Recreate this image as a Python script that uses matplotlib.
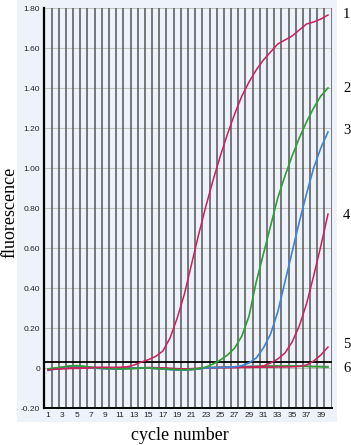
import matplotlib.pyplot as plt
from matplotlib.patches import Rectangle
import numpy as np

#### Data (fluorescence per cycle)
cycles = list(range(1, 41))

curve1 = [-0.010, -0.006, -0.003, -0.002, -0.002, 0.000, 0.002, 0.003, 0.003, 0.003,
          0.004, 0.006, 0.015, 0.030, 0.042, 0.058, 0.085, 0.150, 0.250, 0.370,
          0.520, 0.670, 0.810, 0.940, 1.060, 1.170, 1.270, 1.360, 1.430, 1.490,
          1.540, 1.580, 1.620, 1.640, 1.660, 1.690, 1.720, 1.730, 1.745, 1.765]

curve2 = [-0.005, 0.000, 0.005, 0.010, 0.012, 0.008, 0.003, 0.000, -0.002, -0.003,
          -0.004, -0.003, -0.002, 0.000, 0.000, -0.002, -0.004, -0.006, -0.008, -0.009,
          -0.007, -0.003, 0.005, 0.020, 0.040, 0.065, 0.100, 0.160, 0.260, 0.430,
          0.570, 0.710, 0.850, 0.960, 1.060, 1.150, 1.230, 1.300, 1.360, 1.400]

curve3 = [-0.012, -0.005, 0.003, 0.008, 0.010, 0.006, 0.002, -0.002, -0.004, -0.005,
          -0.004, -0.002, 0.000, 0.001, 0.000, -0.002, -0.005, -0.008, -0.010, -0.010,
          -0.008, -0.004, 0.000, 0.002, 0.003, 0.004, 0.006, 0.012, 0.025, 0.050,
          0.100, 0.170, 0.280, 0.430, 0.580, 0.730, 0.870, 1.000, 1.100, 1.180]

curve4 = [-0.008, -0.005, -0.003, -0.002, -0.001, 0.000, 0.001, 0.002, 0.002, 0.002,
          0.001, 0.000, 0.000, 0.001, 0.002, 0.002, 0.000, -0.002, -0.004, -0.005,
          -0.004, -0.002, 0.000, 0.002, 0.003, 0.003, 0.003, 0.004, 0.005, 0.006,
          0.010, 0.025, 0.045, 0.075, 0.130, 0.210, 0.320, 0.460, 0.610, 0.770]

curve5 = [-0.006, -0.004, -0.002, -0.001, 0.000, 0.001, 0.001, 0.002, 0.002, 0.001,
          0.000, 0.000, 0.001, 0.001, 0.002, 0.001, 0.000, -0.002, -0.003, -0.004,
          -0.003, -0.002, 0.000, 0.001, 0.002, 0.002, 0.002, 0.003, 0.003, 0.004,
          0.004, 0.004, 0.005, 0.005, 0.006, 0.008, 0.015, 0.035, 0.065, 0.105]

curve6 = [-0.004, -0.001, 0.004, 0.009, 0.011, 0.008, 0.004, 0.001, -0.001, -0.002,
          -0.003, -0.003, -0.002, -0.001, 0.000, -0.002, -0.004, -0.006, -0.008, -0.008,
          -0.006, -0.003, 0.000, 0.002, 0.003, 0.004, 0.005, 0.006, 0.007, 0.008,
          0.009, 0.009, 0.010, 0.010, 0.010, 0.009, 0.008, 0.007, 0.006, 0.005]

curve_gray = [-0.006, -0.003, 0.001, 0.004, 0.005, 0.003, 0.001, -0.001, -0.002, -0.003,
              -0.003, -0.002, -0.001, 0.000, 0.000, -0.002, -0.004, -0.007, -0.009, -0.010,
              -0.008, -0.004, 0.000, 0.003, 0.004, 0.005, 0.006, 0.007, 0.008, 0.009,
              0.010, 0.011, 0.011, 0.011, 0.010, 0.010, 0.009, 0.008, 0.008, 0.007]

threshold = 0.03
yticks = [-0.2, 0.0, 0.2, 0.4, 0.6, 0.8, 1.0, 1.2, 1.4, 1.6, 1.8]
ytick_labels = ['-0.20', '0', '0.20', '0.40', '0.60', '0.80', '1.00', '1.20', '1.40', '1.60', '1.80']
xticks = cycles[::2]
curve_names = ['1', '2', '3', '4', '5', '6']
name_y = [15, 88, 131, 215, 345, 369]   # pixel rows of the labels on the right

crimson = '#cc1f5c'
green = '#2f9e35'
blue = '#3d84d6'
bg = '#eef3fb'

#### Figure
fig = plt.figure(figsize=(3.51, 4.45), dpi=100)
fig.patch.set_facecolor('white')
fig.patches.append(Rectangle((0.048, 0.052), 0.912, 0.948, transform=fig.transFigure,
                             facecolor=bg, edgecolor='none', zorder=-1))

ax = fig.add_axes([0.1265, 0.0831, 0.8182, 0.8989])
ax.set_facecolor(bg)
ax.set_xlim(0.5, 40.5)
ax.set_ylim(-0.2, 1.8)

# vertical dark lines at every cycle boundary
for xv in np.arange(0.5, 41.0, 1.0):
    ax.axvline(xv, color='#555555', lw=1.1, zorder=1)

ax.set_yticks(yticks)
ax.set_yticklabels(ytick_labels)
ax.set_xticks(xticks)
ax.set_xticklabels([str(c) for c in xticks])
ax.grid(axis='y', color='#c2c2c2', lw=0.8, zorder=0)
ax.set_axisbelow(True)
ax.tick_params(length=0, labelsize=6, colors='#222222', pad=3)
for lab in ax.get_xticklabels() + ax.get_yticklabels():
    lab.set_fontfamily('Liberation Sans')

ax.spines['top'].set_visible(False)
ax.spines['right'].set_visible(False)
ax.spines['left'].set_linewidth(1.6)
ax.spines['bottom'].set_linewidth(1.4)

ax.axhline(threshold, color='black', lw=1.3, zorder=3)

#### Curves
ax.plot(cycles, curve_gray, color='#8a8a8a', lw=1.2, zorder=4)
ax.plot(cycles, curve6, color=green, lw=1.2, zorder=4)
ax.plot(cycles, curve5, color=crimson, lw=1.1, zorder=5)
ax.plot(cycles, curve4, color=crimson, lw=1.1, zorder=5)
ax.plot(cycles, curve3, color=blue, lw=1.2, zorder=5)
ax.plot(cycles, curve2, color=green, lw=1.2, zorder=5)
ax.plot(cycles, curve1, color=crimson, lw=1.1, zorder=5)

for name, py in zip(curve_names, name_y):
    fig.text(343 / 351, 1 - py / 445, name, fontfamily='Liberation Serif',
             fontsize=10.5, va='center', ha='left')

fig.text(10 / 351, 1 - 212 / 445, 'fluorescence', fontfamily='Liberation Serif',
         fontsize=13, rotation=90, va='center', ha='center')
fig.text(180 / 351, 1 - 436 / 445, 'cycle number', fontfamily='Liberation Serif',
         fontsize=13, va='center', ha='center')

plt.savefig('out.png', dpi=100)
